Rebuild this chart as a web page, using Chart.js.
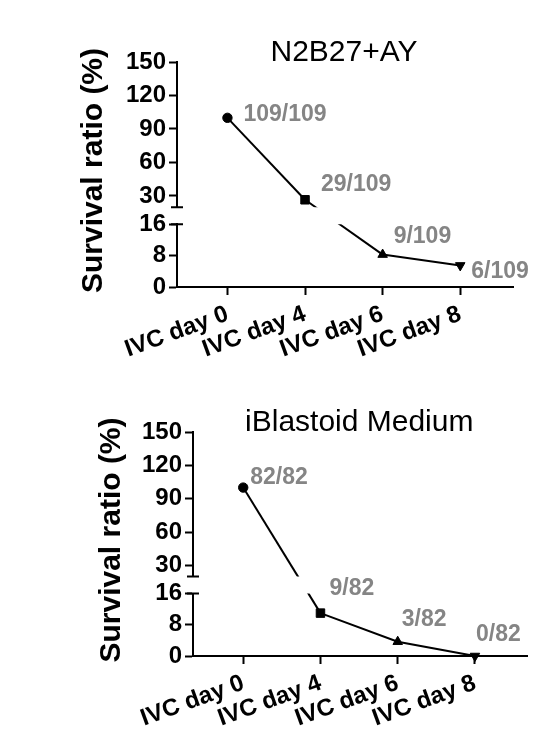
<!DOCTYPE html>
<html>
<head>
<meta charset="utf-8">
<script src="https://cdn.jsdelivr.net/npm/chart.js@4.4.1/dist/chart.umd.min.js"></script>
<style>
  body { margin: 0; background: #fff; }
  .panel { position: absolute; left: 0; width: 534px; }
</style>
</head>
<body>
<div class="panel" style="top:0;height:370px"><canvas id="topChart"></canvas></div>
<div class="panel" style="top:370px;height:364px"><canvas id="bottomChart"></canvas></div>
<script>
// Chart data
const categories = ['IVC day 0', 'IVC day 4', 'IVC day 6', 'IVC day 8'];
const n2b27Ratio = [100, 26.6, 8.26, 5.5];
const n2b27Counts = ['109/109', '29/109', '9/109', '6/109'];
const iblastoidRatio = [100, 10.98, 3.66, 0];
const iblastoidCounts = ['82/82', '9/82', '3/82', '0/82'];
const upperTicks = [30, 60, 90, 120, 150];
const lowerTicks = [0, 8, 16];

const FONT = '"Liberation Sans", Arial, Helvetica, sans-serif';
const markers = ['circle', 'rect', 'triangle', 'triangle'];
const markerRotation = [0, 0, 0, 180];
const markerRadius = [4.7, 6, 5.5, 5.5];

// Draws the bridge across the axis break, the break caps, titles and count labels
const brokenAxisPlugin = {
  id: 'brokenAxis',
  afterDatasetsDraw(chart, args, opts) {
    const ctx = chart.ctx;
    const area = chart.chartArea;
    const up = chart.scales.yTop;
    const gap = chart.scales.yGap;
    const low = chart.scales.yBot;
    const upPts = chart.getDatasetMeta(0).data;
    const lowPts = chart.getDatasetMeta(1).data;
    const upData = chart.data.datasets[0].data;
    const lowData = chart.data.datasets[1].data;

    // line segment crossing the break, hidden inside the gap
    ctx.save();
    ctx.beginPath();
    ctx.rect(area.left, area.top - 10, area.right - area.left, gap.top - area.top + 10);
    ctx.rect(area.left, gap.bottom, area.right - area.left, area.bottom - gap.bottom + 10);
    ctx.clip();
    ctx.strokeStyle = '#000';
    ctx.lineWidth = 2;
    for (let i = 0; i < upData.length - 1; i++) {
      if (upData[i].y !== null && upData[i + 1].y === null && lowData[i + 1].y !== null) {
        ctx.beginPath();
        ctx.moveTo(upPts[i].x, upPts[i].y);
        ctx.lineTo(lowPts[i + 1].x, lowPts[i + 1].y);
        ctx.stroke();
      }
    }
    ctx.restore();

    // break caps on the y axis
    ctx.save();
    ctx.strokeStyle = '#000';
    ctx.lineWidth = 2;
    ctx.beginPath();
    ctx.moveTo(area.left - 6, up.bottom);
    ctx.lineTo(area.left + 6, up.bottom);
    ctx.moveTo(area.left - 6, low.top);
    ctx.lineTo(area.left + 6, low.top);
    ctx.stroke();
    ctx.restore();

    // count labels
    ctx.save();
    ctx.font = 'bold 23px ' + FONT;
    ctx.fillStyle = '#858585';
    ctx.textAlign = 'left';
    ctx.textBaseline = 'middle';
    opts.counts.forEach((txt, i) => {
      const p = upData[i].y !== null ? upPts[i] : lowPts[i];
      ctx.fillText(txt, p.x + opts.offsets[i][0], p.y + opts.offsets[i][1]);
    });
    ctx.restore();

    // panel title
    ctx.save();
    ctx.font = '30px ' + FONT;
    ctx.fillStyle = '#000';
    ctx.textAlign = 'center';
    ctx.textBaseline = 'middle';
    ctx.fillText(opts.title, (area.left + area.right) / 2 - 1, area.top - 9);
    ctx.restore();

    // y axis title, centred on the whole broken axis
    ctx.save();
    ctx.font = 'bold 30px ' + FONT;
    ctx.fillStyle = '#000';
    ctx.textAlign = 'center';
    ctx.textBaseline = 'middle';
    ctx.translate(opts.yTitleX, (area.top + area.bottom) / 2 - 4);
    ctx.rotate(-Math.PI / 2);
    ctx.fillText('Survival ratio (%)', 0, 0);
    ctx.restore();
  }
};

function yAxis(min, max, ticks, weight, stackWeight, width) {
  return {
    type: 'linear',
    position: 'left',
    stack: 'y',
    weight: weight,
    stackWeight: stackWeight,
    min: min,
    max: max,
    afterBuildTicks: (scale) => { scale.ticks = ticks.map(v => ({ value: v })); },
    afterFit: (scale) => { scale.width = width; },
    border: { display: true, color: '#000', width: 2 },
    grid: { drawOnChartArea: false, drawTicks: true, tickLength: 8, tickColor: '#000', tickWidth: 2 },
    ticks: { color: '#000', autoSkip: false, padding: 3, font: { family: FONT, size: 24, weight: 'bold' } }
  };
}

function makeChart(id, ratio, counts, title, axisX, xAxisHeight, rightPad, yTitleX, offsets) {
  const upper = ratio.map((v, i) => ({ x: i, y: v >= 20 ? v : null }));
  const lower = ratio.map((v, i) => ({ x: i, y: v <= 16 ? v : null }));
  const lineStyle = {
    borderColor: '#000',
    backgroundColor: '#000',
    borderWidth: 2,
    pointStyle: markers,
    rotation: markerRotation,
    pointRadius: markerRadius,
    pointBorderWidth: 1,
    spanGaps: false,
    clip: false
  };
  return new Chart(document.getElementById(id), {
    type: 'line',
    data: {
      datasets: [
        Object.assign({ data: upper, yAxisID: 'yTop' }, lineStyle),
        Object.assign({ data: lower, yAxisID: 'yBot' }, lineStyle)
      ]
    },
    options: {
      responsive: true,
      maintainAspectRatio: false,
      animation: false,
      layout: { padding: { top: 62, left: 0, right: rightPad, bottom: 0 } },
      plugins: {
        legend: { display: false },
        tooltip: { enabled: false },
        brokenAxis: { title: title, counts: counts, offsets: offsets, yTitleX: yTitleX }
      },
      scales: {
        x: {
          type: 'linear',
          min: -0.65,
          max: 3.68,
          afterBuildTicks: (scale) => { scale.ticks = categories.map((c, i) => ({ value: i })); },
          afterFit: (scale) => { scale.height = xAxisHeight; },
          border: { display: true, color: '#000', width: 2 },
          grid: { drawOnChartArea: false, drawTicks: true, tickLength: 8, tickColor: '#000', tickWidth: 2 },
          ticks: {
            color: '#000',
            autoSkip: false,
            minRotation: 20,
            maxRotation: 20,
            padding: 5,
            font: { family: FONT, size: 24, weight: 'bold' },
            callback: (v) => categories[v]
          }
        },
        yTop: yAxis(20, 150, upperTicks, 3, 144.5, axisX),
        yGap: {
          type: 'linear',
          position: 'left',
          stack: 'y',
          weight: 2,
          stackWeight: 17,
          min: 0,
          max: 1,
          afterFit: (scale) => { scale.width = axisX; },
          border: { display: false },
          grid: { display: false },
          ticks: { display: false }
        },
        yBot: yAxis(0, 16, lowerTicks, 1, 62.5, axisX)
      }
    },
    plugins: [brokenAxisPlugin]
  });
}

makeChart('topChart', n2b27Ratio, n2b27Counts, 'N2B27+AY', 177, 83, 21, 94,
  [[16, -3], [16, -15], [11, -18], [11, 6]]);
makeChart('bottomChart', iblastoidRatio, iblastoidCounts, 'iBlastoid Medium', 193, 78, 4, 112,
  [[7, -10], [9, -24], [4, -22], [1, -21]]);
</script>
</body>
</html>
